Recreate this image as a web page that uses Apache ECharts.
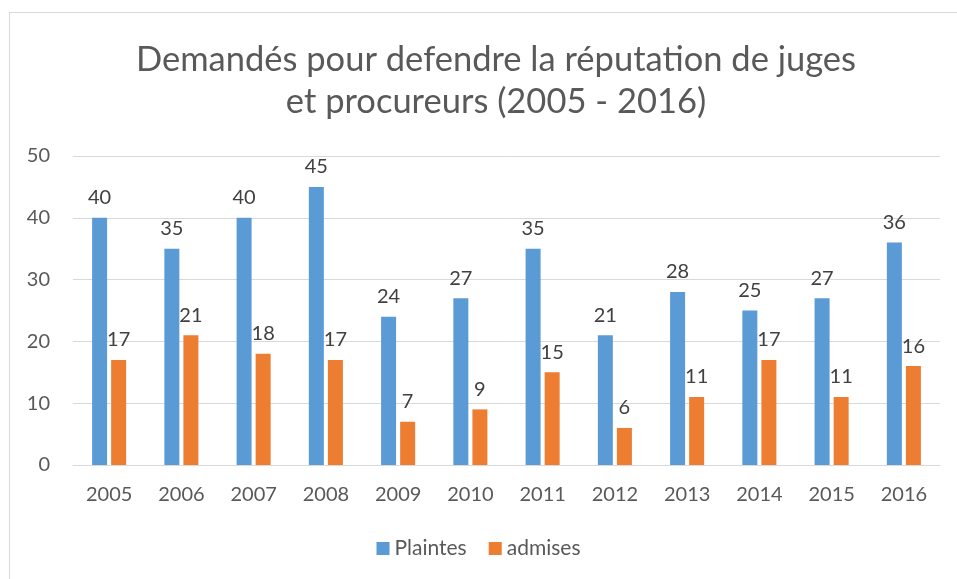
<!DOCTYPE html>
<html>
<head>
<meta charset="utf-8">
<script src="https://cdn.jsdelivr.net/npm/echarts@6/dist/echarts.min.js"></script>
<style>
  html, body { margin: 0; padding: 0; background: #fff; }
  #frame { position: absolute; left: 9px; top: 12px; width: 960px; height: 580px; border: 1px solid #d9d9d9; box-sizing: border-box; }
  #chart { width: 957px; height: 579px; position: absolute; left: 0; top: 0; }
</style>
</head>
<body>
<div id="frame"></div>
<div id="chart"></div>
<script>
const years = ['2005', '2006', '2007', '2008', '2009', '2010', '2011', '2012', '2013', '2014', '2015', '2016']
const plaintes = [40, 35, 40, 45, 24, 27, 35, 21, 28, 25, 27, 36]
const admises = [17, 21, 18, 17, 7, 9, 15, 6, 11, 17, 11, 16]

const chart = echarts.init(document.getElementById('chart'))
const font = 'Lato, "Open Sans", sans-serif'

const labelStyle = {
  show: true,
  position: 'top',
  distance: 10,
  color: '#404040',
  fontSize: 20,
  fontFamily: font,
}

chart.setOption({
  animation: false,
  title: {
    text: 'Demandés pour defendre la réputation de juges\net procureurs (2005 - 2016)',
    left: 491,
    textAlign: 'center',
    top: 34,
    textStyle: { color: '#595959', fontSize: 34.5, fontWeight: 'normal', fontFamily: font, lineHeight: 42 },
  },
  legend: {
    bottom: 15,
    left: 'center',
    itemWidth: 13,
    itemHeight: 13,
    itemGap: 22,
    icon: 'rect',
    textStyle: { color: '#595959', fontSize: 21, fontFamily: font },
  },
  grid: { top: 156, bottom: 114, left: 73, right: 17 },
  xAxis: {
    type: 'category',
    data: years,
    axisLine: { lineStyle: { color: '#d9d9d9', width: 1 } },
    axisTick: { show: false },
    axisLabel: { color: '#595959', fontSize: 20, fontFamily: font, margin: 20 },
  },
  yAxis: {
    type: 'value',
    min: 0,
    max: 50,
    interval: 10,
    axisLine: { show: false },
    axisTick: { show: false },
    splitLine: { lineStyle: { color: '#d9d9d9', width: 1 } },
    axisLabel: { color: '#595959', fontSize: 20, fontFamily: font, margin: 23 },
  },
  series: [
    {
      name: 'Plaintes',
      type: 'bar',
      data: plaintes,
      barWidth: 15,
      barGap: '27%',
      itemStyle: { color: '#5b9bd5' },
      label: labelStyle,
    },
    {
      name: 'admises',
      type: 'bar',
      data: admises,
      barWidth: 15,
      itemStyle: { color: '#ed7d31' },
      label: labelStyle,
    },
  ],
})
</script>
</body>
</html>
